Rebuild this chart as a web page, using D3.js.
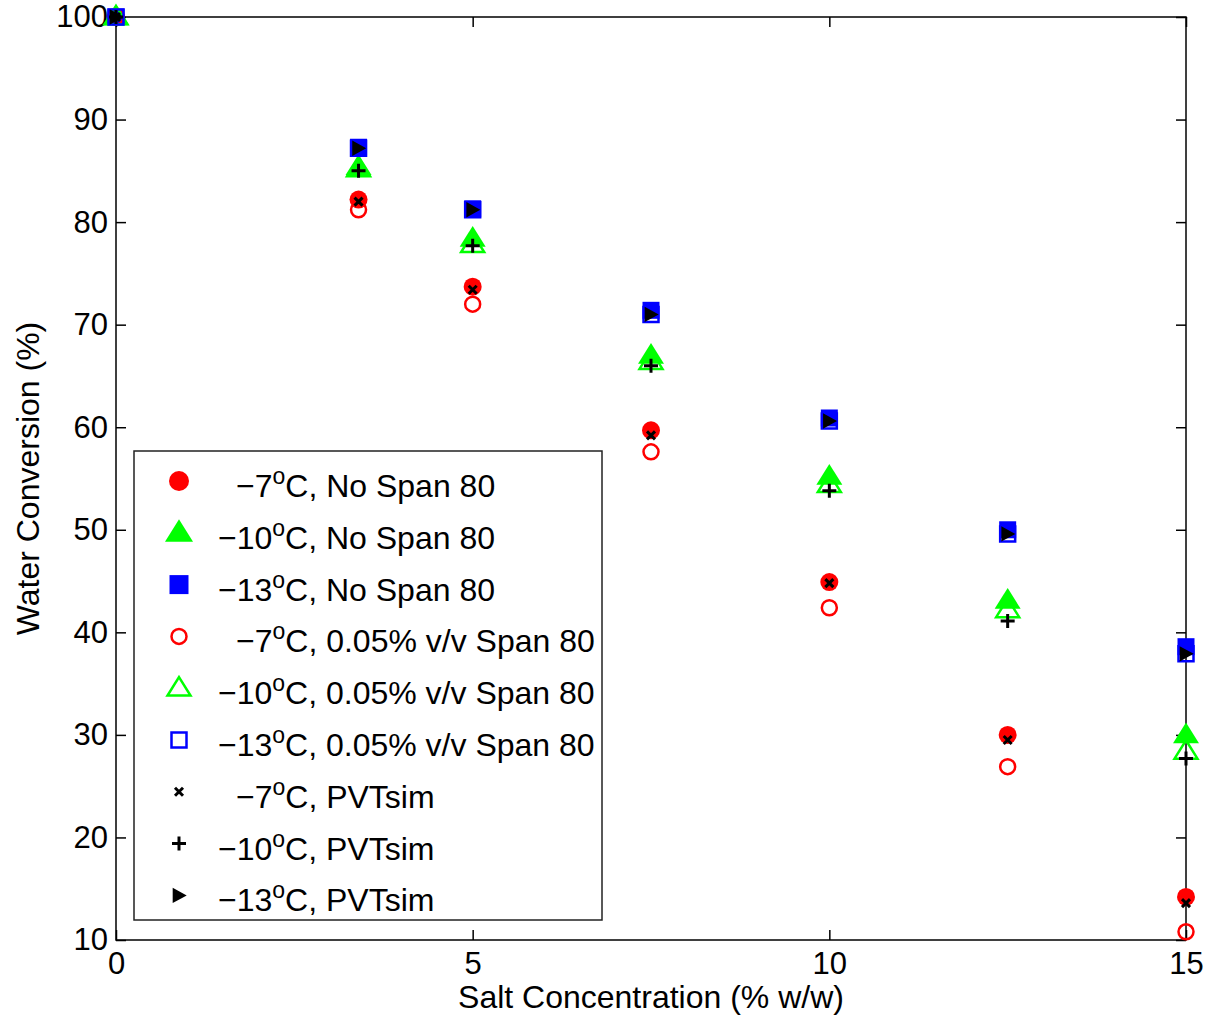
<!DOCTYPE html>
<html>
<head>
<meta charset="utf-8">
<script src="https://cdn.jsdelivr.net/npm/d3@7"></script>
<style>
  body { margin: 0; background: #fff; }
  text { font-family: "Liberation Sans", Arial, sans-serif; fill: #000; }
</style>
</head>
<body>
<div id="chart"></div>
<script>
// data
var salt = [0, 3.4, 5, 7.5, 10, 12.5, 15];
var noSpan7  = [100, 82.2, 73.7, 59.7, 44.9, 30.0, 14.2];
var noSpan10 = [100, 85.4, 78.4, 67.0, 55.2, 43.1, 30.0];
var noSpan13 = [100, 87.3, 81.3, 71.4, 60.9, 50.0, 38.6];
var span7  = [100, 81.2, 72.0, 57.6, 42.4, 26.9, 10.8];
var span10 = [100, 85.2, 77.8, 66.4, 54.4, 42.2, 28.4];
var span13 = [100, 87.2, 81.2, 71.0, 60.6, 49.6, 37.9];
var pvt7  = [100, 82.0, 73.4, 59.2, 44.8, 29.5, 13.6];
var pvt10 = [100, 85.0, 77.7, 66.0, 53.8, 41.1, 27.7];
var pvt13 = [100, 87.2, 81.2, 71.0, 60.6, 49.6, 37.9];
var xTicks = [0, 5, 10, 15];
var yTicks = [10, 20, 30, 40, 50, 60, 70, 80, 90, 100];

var margin = {top: 17, right: 26, bottom: 79, left: 116},
    width = 1212 - margin.left - margin.right,
    height = 1019 - margin.top - margin.bottom;

var svg = d3.select("#chart")
  .append("svg")
    .attr("width", 1212)
    .attr("height", 1019)
  .append("g")
    .attr("transform", "translate(" + margin.left + "," + margin.top + ")");

var x = d3.scaleLinear().domain([0, 15]).range([0, width]);
var y = d3.scaleLinear().domain([10, 100]).range([height, 0]);

// marker shapes (size = width in px)
var tri = {draw: function(c, s) {
  var h = s * 0.8;
  c.moveTo(0, -h * 0.6); c.lineTo(s / 2, h * 0.4); c.lineTo(-s / 2, h * 0.4); c.closePath();
}};
var sq = {draw: function(c, s) { c.rect(-s / 2, -s / 2, s, s); }};
var circ = {draw: function(c, s) { c.moveTo(s / 2, 0); c.arc(0, 0, s / 2, 0, 2 * Math.PI); }};
var plus = {draw: function(c, s) { c.moveTo(-s / 2, 0); c.lineTo(s / 2, 0); c.moveTo(0, -s / 2); c.lineTo(0, s / 2); }};
var times = {draw: function(c, s) { c.moveTo(-s / 2, -s / 2); c.lineTo(s / 2, s / 2); c.moveTo(s / 2, -s / 2); c.lineTo(-s / 2, s / 2); }};
var rtri = {draw: function(c, s) { c.moveTo(s * 0.55, 0); c.lineTo(-s * 0.45, -s * 0.55); c.lineTo(-s * 0.45, s * 0.55); c.closePath(); }};

var series = [
  {vals: noSpan7,  shape: circ,  size: 18, fill: "#ff0000", stroke: "none",    sw: 0,   temp: "\u22127",  text: "C, No Span 80"},
  {vals: noSpan10, shape: tri,   size: 26, fill: "#00ff00", stroke: "none",    sw: 0,   temp: "\u221210", text: "C, No Span 80"},
  {vals: noSpan13, shape: sq,    size: 17, fill: "#0000ff", stroke: "none",    sw: 0,   temp: "\u221213", text: "C, No Span 80"},
  {vals: span7,    shape: circ,  size: 15, fill: "none",    stroke: "#ff0000", sw: 2.5, temp: "\u22127",  text: "C, 0.05% v/v Span 80"},
  {vals: span10,   shape: tri,   size: 23, fill: "none",    stroke: "#00ff00", sw: 2.5, temp: "\u221210", text: "C, 0.05% v/v Span 80"},
  {vals: span13,   shape: sq,    size: 15, fill: "none",    stroke: "#0000ff", sw: 2.5, temp: "\u221213", text: "C, 0.05% v/v Span 80"},
  {vals: pvt7,     shape: times, size: 8,  fill: "none",    stroke: "#000",    sw: 3,   temp: "\u22127",  text: "C, PVTsim"},
  {vals: pvt10,    shape: plus,  size: 14, fill: "none",    stroke: "#000",    sw: 3,   temp: "\u221210", text: "C, PVTsim"},
  {vals: pvt13,    shape: rtri,  size: 14, fill: "#000",    stroke: "none",    sw: 0,   temp: "\u221213", text: "C, PVTsim"}
];

// axes box with inward ticks on all sides
svg.append("rect")
  .attr("width", width).attr("height", height)
  .attr("fill", "none").attr("stroke", "#000").attr("stroke-width", 1.5);

svg.append("g")
  .attr("transform", "translate(0," + height + ")")
  .call(d3.axisBottom(x).tickValues(xTicks).tickSizeInner(-10).tickSizeOuter(0).tickPadding(12))
  .call(function(g) { g.select(".domain").remove(); });
svg.append("g")
  .call(d3.axisLeft(y).tickValues(yTicks).tickSizeInner(-10).tickSizeOuter(0).tickPadding(8))
  .call(function(g) { g.select(".domain").remove(); });
svg.append("g")
  .call(d3.axisTop(x).tickValues(xTicks).tickSizeInner(-10).tickSizeOuter(0).tickFormat(""))
  .call(function(g) { g.select(".domain").remove(); });
svg.append("g")
  .attr("transform", "translate(" + width + ",0)")
  .call(d3.axisRight(y).tickValues(yTicks).tickSizeInner(-10).tickSizeOuter(0).tickFormat(""))
  .call(function(g) { g.select(".domain").remove(); });

svg.selectAll(".tick line").attr("stroke", "#000").attr("stroke-width", 1.5);
svg.selectAll(".tick text")
  .style("font-family", "'Liberation Sans', Arial, sans-serif")
  .style("font-size", "31px")
  .attr("fill", "#000");

// axis labels
svg.append("text")
  .attr("x", width / 2).attr("y", height + 68)
  .attr("text-anchor", "middle")
  .style("font-size", "32px")
  .text("Salt Concentration (% w/w)");
svg.append("text")
  .attr("transform", "translate(" + (-77) + "," + (height / 2) + ") rotate(-90)")
  .attr("text-anchor", "middle")
  .style("font-size", "32px")
  .text("Water Conversion (%)");

// points
series.forEach(function(s) {
  svg.append("g")
    .selectAll("path")
    .data(s.vals)
    .enter()
    .append("path")
      .attr("transform", function(d, i) { return "translate(" + x(salt[i]) + "," + y(d) + ")"; })
      .attr("d", d3.symbol().type(s.shape).size(s.size))
      .attr("fill", s.fill)
      .attr("stroke", s.stroke)
      .attr("stroke-width", s.sw);
});

// legend
var leg = svg.append("g").attr("transform", "translate(" + (134 - margin.left) + "," + (451 - margin.top) + ")");
leg.append("rect")
  .attr("width", 468).attr("height", 469)
  .attr("fill", "#fff").attr("stroke", "#222").attr("stroke-width", 1.5);

series.forEach(function(s, i) {
  var ry = 30 + i * 51.8;
  leg.append("path")
    .attr("transform", "translate(45," + ry + ")")
    .attr("d", d3.symbol().type(s.shape).size(s.size + (s.fill !== "none" && s.shape !== rtri ? 2 : 0)))
    .attr("fill", s.fill)
    .attr("stroke", s.stroke)
    .attr("stroke-width", s.sw);
  var t = leg.append("text")
    .attr("x", s.temp.length === 2 ? 102 : 84)
    .attr("y", ry + 16)
    .style("font-size", "32px");
  t.append("tspan").text(s.temp);
  t.append("tspan").attr("dy", -13).style("font-size", "23px").text("o");
  t.append("tspan").attr("dy", 13).text(s.text);
});
</script>
</body>
</html>
